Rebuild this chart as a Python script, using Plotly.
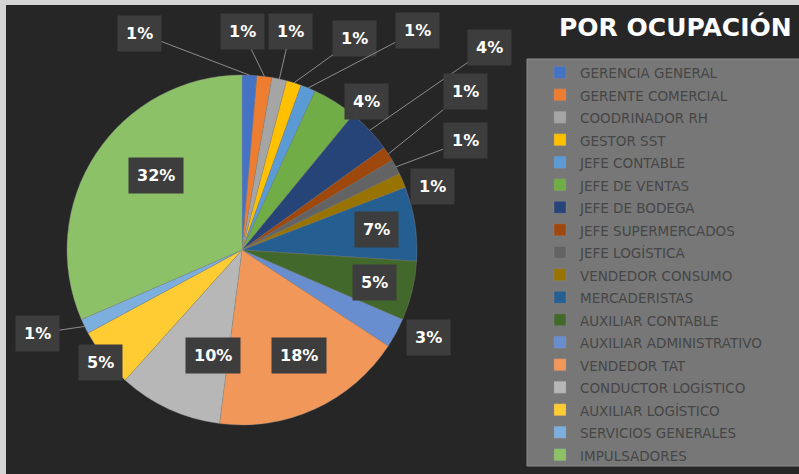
import math
import plotly.graph_objects as go

# ---------------- data ----------------
categories = [
    "GERENCIA GENERAL", "GERENTE COMERCIAL", "COODRINADOR RH", "GESTOR SST",
    "JEFE CONTABLE", "JEFE DE VENTAS", "JEFE DE BODEGA", "JEFE SUPERMERCADOS",
    "JEFE LOGÍSTICA", "VENDEDOR CONSUMO", "MERCADERISTAS", "AUXILIAR CONTABLE",
    "AUXILIAR ADMINISTRATIVO", "VENDEDOR TAT", "CONDUCTOR LOGÍSTICO",
    "AUXILIAR LOGÍSTICO", "SERVICIOS GENERALES", "IMPULSADORES",
]
counts = [1, 1, 1, 1, 1, 3, 3, 1, 1, 1, 5, 4, 2, 13, 7, 4, 1, 23]
title_text = "POR OCUPACIÓN"

# ---------------- style ----------------
colors = [
    "#4472C4", "#ED7D31", "#A5A5A5", "#FFC000", "#5B9BD5", "#70AD47",
    "#264478", "#9E480E", "#636363", "#997300", "#255E91", "#43682B",
    "#698ED0", "#F1975A", "#B7B7B7", "#FFCD33", "#7CAFDD", "#8CC168",
]
# label placement: mode, pixel offset from slice edge (for outside labels)
label_style = [
    ("line", -110, -42), ("line", -22, -45), ("line", 11, -48),
    ("line", 61, -44), ("line", 109, -57), ("out", 32, -19),
    ("line", 120, -83), ("line", 77, -62), ("line", 69, -26),
    ("out", 30, 6), ("in", 0, 0), ("in", 0, 0),
    ("out", 32, 23), ("in", 0, 0), ("in", 0, 0),
    ("out", -27, 23), ("line", -47, 7), ("in", 0, 0),
]

W, H = 799, 474
dom_x = [67 / W, 417 / W]
dom_y = [49 / H, 399 / H]
cx = (dom_x[0] + dom_x[1]) / 2 * W
cy = (1 - (dom_y[0] + dom_y[1]) / 2) * H
R = min((dom_x[1] - dom_x[0]) * W, (dom_y[1] - dom_y[0]) * H) / 2

legend_labels = [f'<span style="font-size:13.5px">{c}</span>' for c in categories]

fig = go.Figure(go.Pie(
    labels=legend_labels,
    values=counts,
    sort=False,
    direction="clockwise",
    rotation=0,
    marker=dict(colors=colors, line=dict(color="rgba(140,140,140,0.6)", width=0.6)),
    textinfo="none",
    domain=dict(x=dom_x, y=dom_y),
    hovertemplate="%{label}: %{percent}<extra></extra>",
))

total = sum(counts)
annotations = []
cum = 0
for i, v in enumerate(counts):
    mid = (cum + v / 2) / total * 2 * math.pi
    cum += v
    pct = f"{round(v / total * 100)}%"
    mode, ox, oy = label_style[i]
    box = dict(
        text=pct, font=dict(family="DejaVu Sans", size=16, color="white", weight="bold"),
        bgcolor="#3d3d3d", borderpad=8, xref="paper", yref="paper",
    )
    if mode == "in":
        px = cx + 0.78 * R * math.sin(mid)
        py = cy - 0.78 * R * math.cos(mid)
        box.update(x=px / W, y=1 - py / H, showarrow=False)
    else:
        px = cx + R * math.sin(mid)
        py = cy - R * math.cos(mid)
        if mode == "out":
            box.update(x=px / W, y=1 - py / H, showarrow=False, xshift=ox, yshift=-oy)
        else:
            box.update(x=px / W, y=1 - py / H, showarrow=True, ax=ox, ay=oy,
                       arrowhead=0, arrowwidth=1, arrowcolor="#8c8c8c", standoff=0)
    annotations.append(box)

annotations.append(dict(
    text=f"<b>{title_text}</b>", x=557 / W, y=1 - 27 / H, xref="paper", yref="paper",
    xanchor="left", yanchor="middle", showarrow=False,
    font=dict(family="DejaVu Sans", size=25, color="white"),
))

shapes = [
    # dark chart area inside light frame
    dict(type="rect", xref="paper", yref="paper", x0=6 / W, x1=1.02, y0=-0.02, y1=1 - 5 / H,
         fillcolor="#262626", line=dict(width=0), layer="below"),
    # legend box
    dict(type="rect", xref="paper", yref="paper", x0=527 / W, x1=1.02, y0=1 - 466 / H, y1=1 - 59 / H,
         fillcolor="#777777", line=dict(color="#8e8e8e", width=1), layer="below"),
]

fig.update_layout(
    width=W, height=H,
    margin=dict(l=0, r=0, t=0, b=0),
    paper_bgcolor="#d4d4d4",
    showlegend=True,
    legend=dict(
        x=540 / W, y=1 - 56 / H, xanchor="left", yanchor="top",
        bgcolor="rgba(0,0,0,0)", borderwidth=0,
        font=dict(family="DejaVu Sans", size=15, color="#464646"),
        traceorder="normal",
    ),
    annotations=annotations,
    shapes=shapes,
)

fig.write_html(
    "out.html",
    config={"displayModeBar": False},
    post_script="document.body.style.margin='0px';document.body.style.overflow='hidden';",
)
